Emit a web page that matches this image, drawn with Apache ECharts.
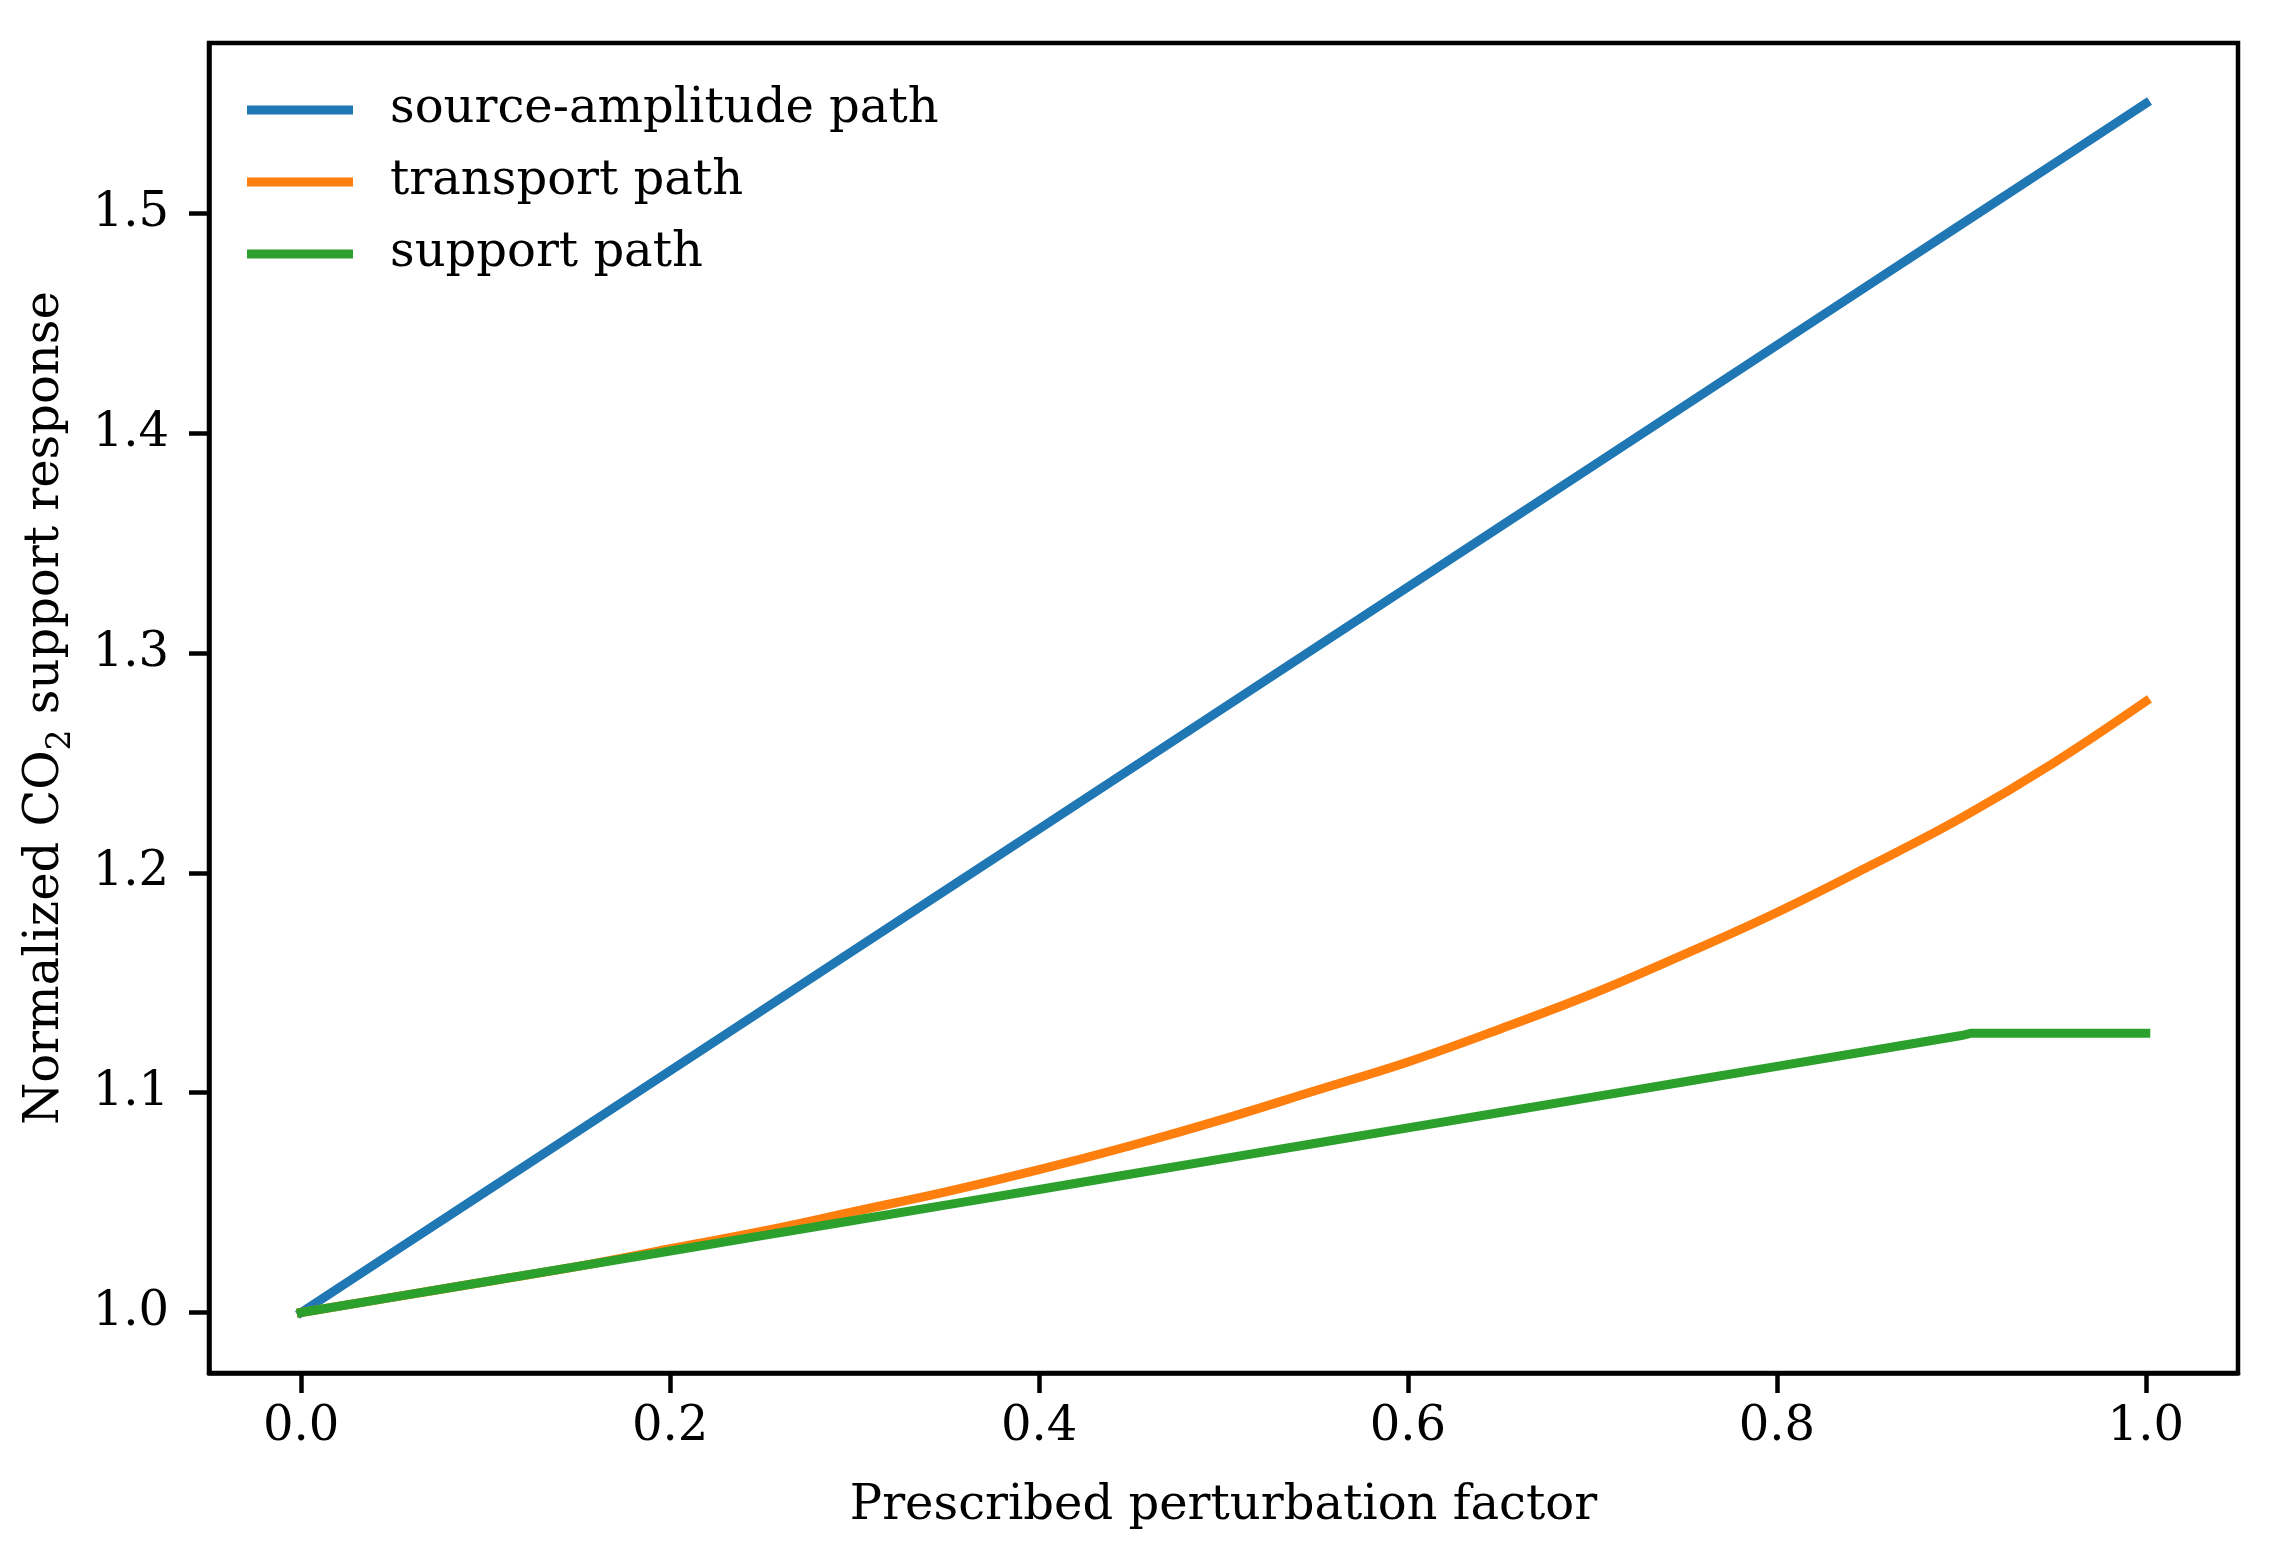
<!DOCTYPE html>
<html>
<head>
<meta charset="utf-8">
<script src="https://cdn.jsdelivr.net/npm/echarts@6.0.0/dist/echarts.min.js"></script>
<style>
  html, body { margin: 0; padding: 0; background: #fff; }
  #chart { width: 2269px; height: 1542px; }
</style>
</head>
<body>
<div id="chart"></div>
<script>
// values
var xs = [0, 0.05, 0.1, 0.15, 0.2, 0.25, 0.3, 0.35, 0.4, 0.45, 0.5,
          0.55, 0.6, 0.65, 0.7, 0.75, 0.8, 0.85, 0.9, 0.95, 1.0]
var sourceAmp = [1.000, 1.0275, 1.055, 1.0825, 1.110, 1.1375, 1.165, 1.1925, 1.220, 1.2475, 1.275,
                 1.3025, 1.330, 1.3575, 1.385, 1.4125, 1.440, 1.4675, 1.495, 1.5225, 1.550]
var transport = [1.000, 1.007, 1.014, 1.021, 1.029, 1.037, 1.046, 1.055, 1.065, 1.076, 1.088,
                 1.101, 1.114, 1.129, 1.145, 1.163, 1.182, 1.203, 1.225, 1.250, 1.278]
var supportX = [0, 0.05, 0.1, 0.15, 0.2, 0.25, 0.3, 0.35, 0.4, 0.45, 0.5,
                0.55, 0.6, 0.65, 0.7, 0.75, 0.8, 0.85, 0.9, 0.905, 0.95, 1.0]
var support = [1.000, 1.007, 1.014, 1.021, 1.028, 1.035, 1.042, 1.049, 1.056, 1.063, 1.070,
               1.077, 1.084, 1.091, 1.098, 1.105, 1.112, 1.119, 1.126, 1.127, 1.127, 1.127]
var xTicks = [0, 0.2, 0.4, 0.6, 0.8, 1.0]
var yTicks = [1.0, 1.1, 1.2, 1.3, 1.4, 1.5]
var names = ['source-amplitude path', 'transport path', 'support path']
var colors = ['#1f77b4', '#ff7f0e', '#2ca02c']

function pairs (x, y) {
    var out = []
    for (var i = 0; i < x.length; i++) {
        out.push([x[i], y[i]])
    }
    return out
}

var font = 'DejaVu Serif'
var myChart = echarts.init(document.getElementById('chart'))

function lineSeries (name, data, color, smooth) {
    return {
        name: name,
        type: 'line',
        data: data,
        symbol: 'none',
        smooth: smooth,
        color: color,
        lineStyle: { width: 9, color: color, cap: 'square' },
        animation: false
    }
}

var option = {
    animation: false,
    backgroundColor: '#fff',
    grid: {
        left: 209, right: 31, top: 43, bottom: 169,
        show: true, borderColor: '#000', borderWidth: 4.5,
        containLabel: false
    },
    legend: {
        left: 242,
        top: 81,
        orient: 'vertical',
        icon: 'rect',
        itemWidth: 106,
        itemHeight: 9,
        itemGap: 24,
        data: names,
        textStyle: {
            fontFamily: font, fontSize: 48, color: '#000',
            lineHeight: 48, padding: [0, 0, 0, 32]
        }
    },
    xAxis: {
        type: 'value',
        min: -0.05,
        max: 1.05,
        name: 'Prescribed perturbation factor',
        nameLocation: 'middle',
        nameGap: 110,
        nameTextStyle: { fontFamily: font, fontSize: 48, color: '#000' },
        axisLine: { show: true, onZero: false, lineStyle: { color: '#000', width: 4.5 } },
        axisTick: { show: true, inside: false, length: 20, lineStyle: { color: '#000', width: 4.5 }, customValues: xTicks },
        axisLabel: {
            fontFamily: font, fontSize: 48, color: '#000', margin: 31,
            customValues: xTicks,
            formatter: function (v) { return v.toFixed(1) }
        },
        splitLine: { show: false }
    },
    yAxis: {
        type: 'value',
        min: 0.9725,
        max: 1.5775,
        name: 'Normalized CO{sub|2} support response',
        nameLocation: 'middle',
        nameGap: 131,
        nameTextStyle: {
            fontFamily: font, fontSize: 48, color: '#000', lineHeight: 64,
            rich: {
                sub: { fontFamily: font, fontSize: 33, color: '#000', lineHeight: 33, verticalAlign: 'bottom' }
            }
        },
        axisLine: { show: true, onZero: false, lineStyle: { color: '#000', width: 4.5 } },
        axisTick: { show: true, inside: false, length: 20, lineStyle: { color: '#000', width: 4.5 }, customValues: yTicks },
        axisLabel: {
            fontFamily: font, fontSize: 48, color: '#000', margin: 40,
            customValues: yTicks,
            formatter: function (v) { return v.toFixed(1) }
        },
        splitLine: { show: false }
    },
    series: [
        lineSeries(names[0], pairs(xs, sourceAmp), colors[0], false),
        lineSeries(names[1], pairs(xs, transport), colors[1], 0.4),
        lineSeries(names[2], pairs(supportX, support), colors[2], false)
    ]
}
myChart.setOption(option)
</script>
</body>
</html>
